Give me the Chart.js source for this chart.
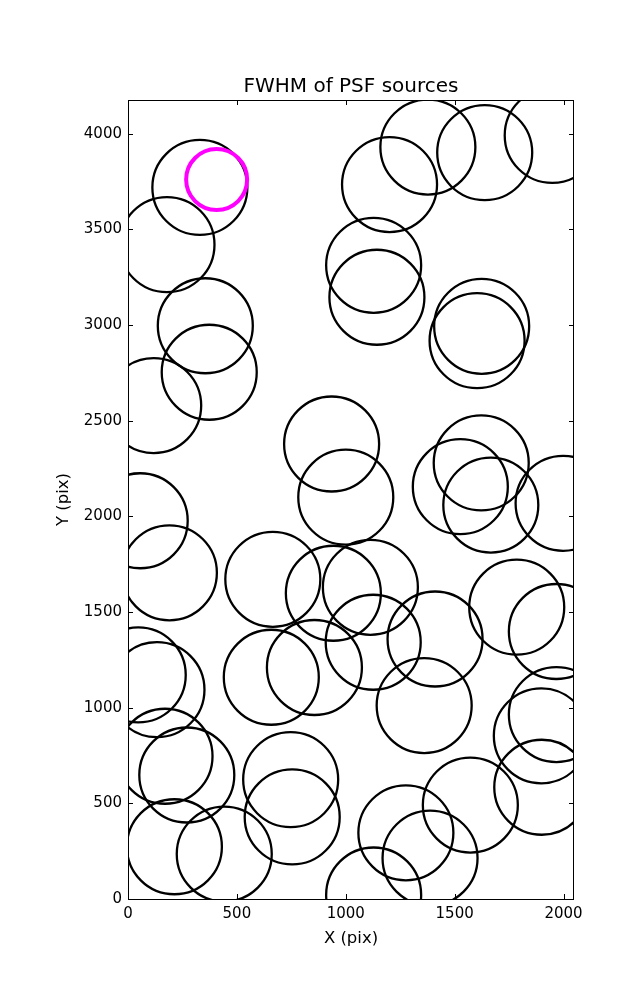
<!DOCTYPE html>
<html><head><meta charset="utf-8">
<script src="https://cdn.jsdelivr.net/npm/chart.js@4.4.0/dist/chart.umd.min.js"></script>
<style>html,body{margin:0;padding:0;background:#fff;} #wrap{width:637px;height:1000px;}</style>
</head><body><div id="wrap"><canvas id="c" width="637" height="1000"></canvas></div>
<script>
const xTicks = [0, 500, 1000, 1500, 2000];
const yTicks = [0, 500, 1000, 1500, 2000, 2500, 3000, 3500, 4000];
const xRange = [0, 2048];
const yRange = [0, 4176];

// black circles: PSF sources (x, y in pixels)
const srcX = [330, 179, 355, 373, 118, 56, 190, 665, 935, 1000, 943, 1113, 1622, 1526, 1666, 1998,
              1785, 1967, 1126, 1410, 1377, 1638, 1948, 1201, 1128, 1143, 1624, 1603,
              47, 133, 170, 270, 213, 442, 658, 856, 747, 754, 1360, 1276, 1387, 1572, 1128, 1967, 1898, 1900];
const srcY = [3719, 3420, 2996, 2753, 2579, 1977, 1705, 1671, 2378, 2100, 1598, 1629, 2279, 2155, 2059, 2068,
              1525, 1398, 1342, 1359, 3930, 3901, 3991, 3734, 3312, 3145, 2993, 2918,
              1171, 1094, 746, 648, 273, 235, 1159, 1210, 624, 429, 1011, 346, 214, 491, 21, 964, 853, 584];
// magenta circle: reference source
const refX = [407];
const refY = [3760];

const toPts = (xs, ys) => xs.map((v, i) => ({x: v, y: ys[i]}));

const framePlugin = {
  id: 'frame',
  afterDraw(chart) {
    const {ctx, chartArea: a, scales: {x, y}} = chart;
    ctx.save();
    ctx.strokeStyle = '#000';
    ctx.lineWidth = 1;
    ctx.beginPath();
    x.ticks.forEach(t => {
      const p = Math.round(x.getPixelForValue(t.value)) + 0.5;
      ctx.moveTo(p, a.bottom); ctx.lineTo(p, a.bottom - 5);
      ctx.moveTo(p, a.top); ctx.lineTo(p, a.top + 5);
    });
    y.ticks.forEach(t => {
      const p = Math.round(y.getPixelForValue(t.value)) + 0.5;
      ctx.moveTo(a.left, p); ctx.lineTo(a.left + 5, p);
      ctx.moveTo(a.right, p); ctx.lineTo(a.right - 5, p);
    });
    ctx.stroke();
    ctx.strokeRect(a.left + 0.5, a.top + 0.5, a.right - a.left - 1, a.bottom - a.top);
    ctx.restore();
  }
};

const FONT = 'DejaVu Sans';
new Chart(document.getElementById('c'), {
  type: 'scatter',
  data: {
    datasets: [
      {
        data: toPts(refX, refY),
        pointStyle: 'circle',
        pointRadius: 30.5,
        borderWidth: 4,
        borderColor: '#ff00ff',
        backgroundColor: 'rgba(0,0,0,0)',
        clip: 0
      },
      {
        data: toPts(srcX, srcY),
        pointStyle: 'circle',
        pointRadius: 47.5,
        borderWidth: 2.3,
        borderColor: '#000000',
        backgroundColor: 'rgba(0,0,0,0)',
        clip: 0
      }
    ]
  },
  options: {
    responsive: false,
    animation: false,
    events: [],
    devicePixelRatio: 1,
    layout: {padding: {left: 0, top: 0, bottom: 0, right: 63}},
    plugins: {
      legend: {display: false},
      tooltip: {enabled: false},
      title: {display: false}
    },
    scales: {
      x: {
        type: 'linear',
        position: 'bottom',
        min: xRange[0], max: xRange[1],
        grid: {display: false, drawTicks: false},
        border: {display: false},
        afterBuildTicks: s => { s.ticks = xTicks.map(v => ({value: v})); },
        afterFit: s => { s.height = 101; },
        ticks: {color: '#000', font: {family: FONT, size: 15}, padding: 6, maxRotation: 0,
                callback: v => String(v)},
        title: {display: true, text: 'X (pix)', color: '#000', font: {family: FONT, size: 16.5}, padding: {top: 0, bottom: 51}}
      },
      top: {
        type: 'linear',
        position: 'top',
        axis: 'x',
        min: xRange[0], max: xRange[1],
        grid: {display: false, drawTicks: false},
        border: {display: false},
        ticks: {display: false},
        afterFit: s => { s.height = 100; },
        title: {display: true, text: 'FWHM of PSF sources', color: '#000', font: {family: FONT, size: 20}, padding: {top: 75, bottom: 0}}
      },
      y: {
        type: 'linear',
        min: yRange[0], max: yRange[1],
        grid: {display: false, drawTicks: false},
        border: {display: false},
        afterBuildTicks: s => { s.ticks = yTicks.map(v => ({value: v})); },
        afterFit: s => { s.width = 128; },
        ticks: {color: '#000', font: {family: FONT, size: 15}, padding: 6,
                callback: v => String(v)},
        title: {display: true, text: 'Y (pix)', color: '#000', font: {family: FONT, size: 16.5}, padding: {top: 54, bottom: 0}}
      }
    }
  },
  plugins: [framePlugin]
});
</script>
</body></html>
